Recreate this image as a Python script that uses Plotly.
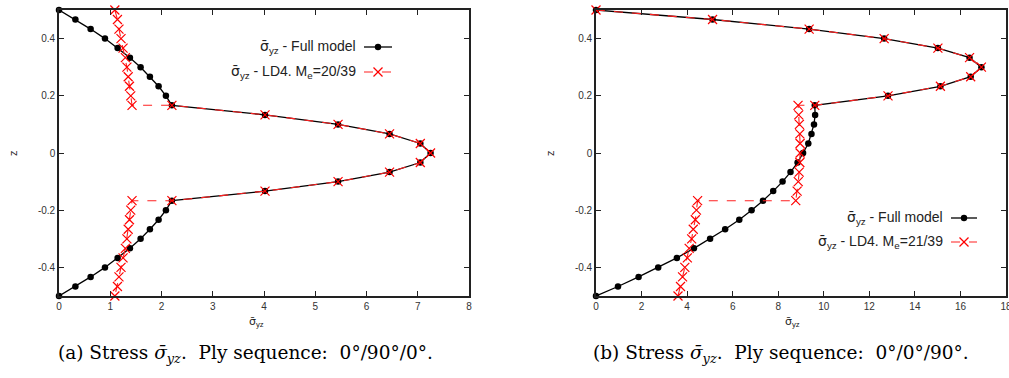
import plotly.graph_objects as go

W, H = 1009, 378

# ---------------- data ----------------
# z levels (31 points, top to bottom), 3 plies of 10 intervals each
z_full = [0.5, 0.4667, 0.4333, 0.4, 0.3667, 0.3333, 0.3, 0.2667, 0.2333, 0.2, 0.1667,
          0.1333, 0.1, 0.0667, 0.0333, 0.0, -0.0333, -0.0667, -0.1, -0.1333, -0.1667,
          -0.2, -0.2333, -0.2667, -0.3, -0.3333, -0.3667, -0.4, -0.4333, -0.4667, -0.5]
# layer-wise z (33 points: interface points duplicated)
z_ld4 = [0.5, 0.4667, 0.4333, 0.4, 0.3667, 0.3333, 0.3, 0.2667, 0.2333, 0.2, 0.1667,
         0.1667, 0.1333, 0.1, 0.0667, 0.0333, 0.0, -0.0333, -0.0667, -0.1, -0.1333, -0.1667,
         -0.1667, -0.2, -0.2333, -0.2667, -0.3, -0.3333, -0.3667, -0.4, -0.4333, -0.4667, -0.5]

# (a) 0/90/0
a_full = [0.0, 0.32, 0.617, 0.897, 1.144, 1.384, 1.592, 1.774, 1.943, 2.086, 2.203,
          4.02, 5.445, 6.45, 7.05, 7.25, 7.05, 6.45, 5.445, 4.02, 2.203,
          2.086, 1.943, 1.774, 1.592, 1.384, 1.144, 0.897, 0.617, 0.32, 0.0]
a_ld4 = [1.09, 1.14, 1.17, 1.21, 1.25, 1.295, 1.325, 1.35, 1.375, 1.40, 1.425,
         2.203, 4.02, 5.445, 6.45, 7.05, 7.25, 7.05, 6.45, 5.445, 4.02, 2.203,
         1.425, 1.40, 1.375, 1.35, 1.325, 1.295, 1.25, 1.21, 1.17, 1.14, 1.09]

# (b) 0/0/90
b_full = [0.0, 5.117, 9.357, 12.65, 15.01, 16.40, 16.92, 16.45, 15.12, 12.82, 9.605,
          9.62, 9.57, 9.46, 9.32, 9.09, 8.85, 8.54, 8.19, 7.78, 7.33,
          6.83, 6.29, 5.67, 5.01, 4.30, 3.55, 2.73, 1.87, 0.965, 0.0]
b_ld4 = [0.0, 5.117, 9.357, 12.65, 15.01, 16.40, 16.92, 16.45, 15.12, 12.82, 9.605,
         8.87, 8.90, 8.93, 8.95, 8.96, 8.96, 8.95, 8.92, 8.88, 8.83, 8.77,
         4.46, 4.41, 4.36, 4.27, 4.20, 4.09, 4.01, 3.90, 3.80, 3.71, 3.60]

x_ticks_a = [0, 1, 2, 3, 4, 5, 6, 7, 8]
x_ticks_b = [0, 2, 4, 6, 8, 10, 12, 14, 16, 18]
y_ticks = [-0.4, -0.2, 0, 0.2, 0.4]
y_tick_text = ["-0.4", "-0.2", "0", "0.2", "0.4"]

SIG = '<span style="font-family:DejaVu Sans">σ̄</span>'
label_full = SIG + "<sub>yz</sub> - Full model"
label_ld4_a = SIG + "<sub>yz</sub> - LD4. M<sub>e</sub>=20/39"
label_ld4_b = SIG + "<sub>yz</sub> - LD4. M<sub>e</sub>=21/39"
SIG_I = '<i>σ̄</i>'
caption_a = "(a) Stress " + SIG_I + "<sub><i>yz</i></sub>.  Ply sequence:  0°/90°/0°."
caption_b = "(b) Stress " + SIG_I + "<sub><i>yz</i></sub>.  Ply sequence:  0°/0°/90°."

# ---------------- layout helpers ----------------
def px(x):
    return x / W

def py(y):
    return 1 - y / H

SANS = "Liberation Sans"
SERIF = "DejaVu Serif"

fig = go.Figure()

def add_pair(xf, xl, xa, ya):
    fig.add_trace(go.Scatter(x=xf, y=z_full, mode="lines+markers", xaxis=xa, yaxis=ya,
                             line=dict(color="black", width=1.3),
                             marker=dict(symbol="circle", size=6.5, color="black"),
                             showlegend=False, cliponaxis=False))
    fig.add_trace(go.Scatter(x=xl, y=z_ld4, mode="lines+markers", xaxis=xa, yaxis=ya,
                             line=dict(color="#ff2020", width=1.1, dash="dash"),
                             marker=dict(symbol="x-thin", size=9, color="red",
                                         line=dict(color="red", width=1.2)),
                             showlegend=False, cliponaxis=False))

add_pair(a_full, a_ld4, "x", "y")
add_pair(b_full, b_ld4, "x2", "y2")

ydom = [py(296), py(10)]
axis_common = dict(showline=True, mirror="ticks", linecolor="#222", linewidth=1.6,
                   ticks="inside", ticklen=5, tickcolor="#222", tickwidth=1.2,
                   showgrid=False, zeroline=False, automargin=False,
                   tickfont=dict(family=SANS, size=10, color="#333"))

fig.update_layout(
    width=W, height=H, autosize=False,
    margin=dict(l=0, r=0, t=0, b=0, pad=0, autoexpand=False),
    paper_bgcolor="white", plot_bgcolor="white",
    xaxis=dict(domain=[px(59), px(469)], range=[0, 8], tickvals=x_ticks_a,
               anchor="y", **axis_common),
    yaxis=dict(domain=ydom, range=[-0.5, 0.5], tickvals=y_ticks, ticktext=y_tick_text,
               anchor="x", **axis_common),
    xaxis2=dict(domain=[px(596), px(1006)], range=[0, 18], tickvals=x_ticks_b,
                anchor="y2", ticklabeloverflow="allow", **axis_common),
    yaxis2=dict(domain=ydom, range=[-0.5, 0.5], tickvals=y_ticks, ticktext=y_tick_text,
                anchor="x2", **axis_common),
)

annotations = []
shapes = []

def text(x, y, s, size, family=SANS, xanchor="center", angle=0, color="#222"):
    annotations.append(dict(x=px(x), y=py(y), xref="paper", yref="paper", text=s,
                            showarrow=False, xanchor=xanchor, yanchor="middle",
                            textangle=angle,
                            font=dict(family=family, size=size, color=color)))

# axis titles
text(13, 153, "z", 11, angle=-90)
text(550, 153, "z", 11, angle=-90)
text(256, 322, '<span style="font-family:DejaVu Sans">σ̄</span><sub>yz</sub>', 11)
text(792, 322, '<span style="font-family:DejaVu Sans">σ̄</span><sub>yz</sub>', 11)

# captions
text(245, 354, caption_a, 18.5, family=SERIF, color="black")
text(781, 354, caption_b, 18.5, family=SERIF, color="black")

# legends
def legend(xr, y1, y2, l0, l1, lab2):
    text(xr, y1, label_full, 14, xanchor="right")
    text(xr, y2, lab2, 14, xanchor="right")
    xm = (l0 + l1) / 2
    shapes.append(dict(type="line", xref="paper", yref="paper", x0=px(l0), x1=px(l1),
                       y0=py(y1), y1=py(y1), line=dict(color="black", width=1.3)))
    r = 3.2
    shapes.append(dict(type="circle", xref="paper", yref="paper",
                       x0=px(xm - r), x1=px(xm + r), y0=py(y1 + r), y1=py(y1 - r),
                       fillcolor="black", line=dict(color="black", width=0)))
    shapes.append(dict(type="line", xref="paper", yref="paper", x0=px(l0), x1=px(l1),
                       y0=py(y2), y1=py(y2), line=dict(color="#ff2020", width=1.1, dash="dash")))
    d = 4.5
    shapes.append(dict(type="line", xref="paper", yref="paper", x0=px(xm - d), x1=px(xm + d),
                       y0=py(y2 - d), y1=py(y2 + d), line=dict(color="red", width=1.2)))
    shapes.append(dict(type="line", xref="paper", yref="paper", x0=px(xm - d), x1=px(xm + d),
                       y0=py(y2 + d), y1=py(y2 - d), line=dict(color="red", width=1.2)))

legend(358, 47, 72, 364, 392, label_ld4_a)
legend(945, 218, 242, 951, 977, label_ld4_b)

fig.update_layout(annotations=annotations, shapes=shapes)
fig.write_html("out.html", config={"displayModeBar": False},
               post_script="document.body.style.margin='0';document.body.style.overflow='hidden';")
